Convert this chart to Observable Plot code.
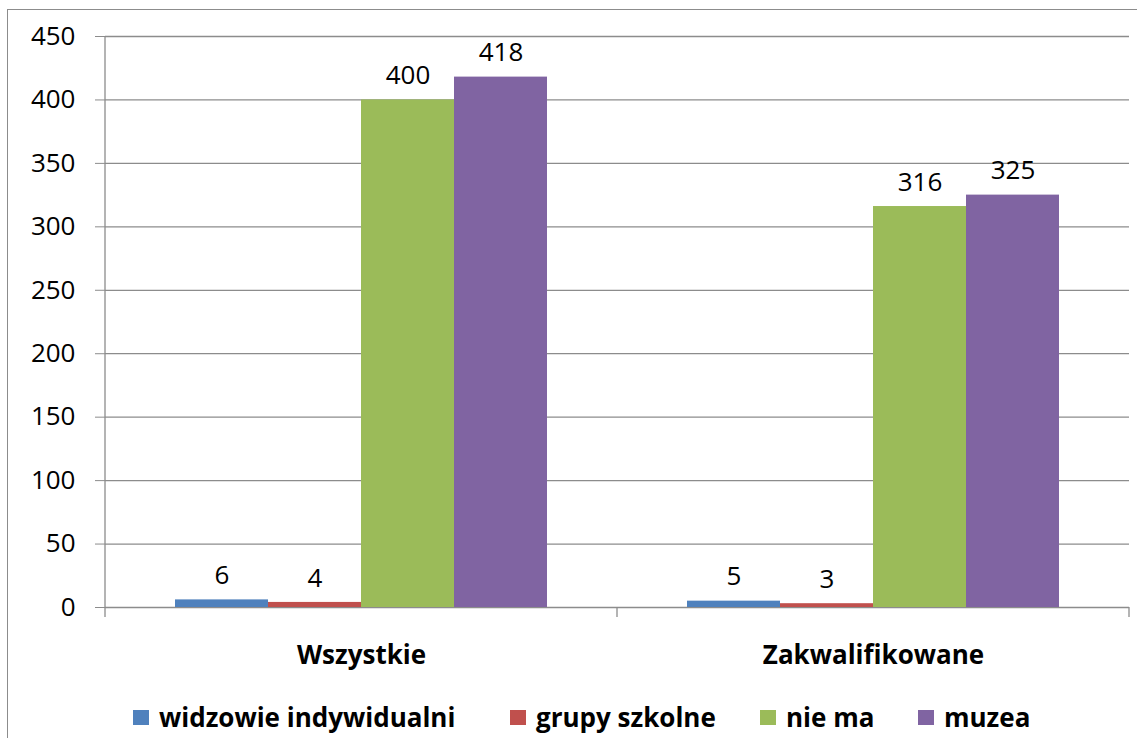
<!DOCTYPE html>
<html>
<head>
<meta charset="utf-8">
<script src="https://cdn.jsdelivr.net/npm/d3@7"></script>
<script src="https://cdn.jsdelivr.net/npm/@observablehq/plot@0.6"></script>
<style>
  body { margin: 0; background: #fff; font-family: "Open Sans", sans-serif; }
  #wrap { position: relative; width: 1137px; height: 738px; overflow: hidden; background: #fff; }
  #border { position: absolute; left: 7px; top: 9px; width: 1200px; height: 800px; border: 1px solid #8c8c8c; box-sizing: border-box; }
  #chart { position: absolute; left: 0; top: 0; }
  #legend { position: absolute; top: 700px; left: 0; width: 1137px; height: 34px; }
  .item { position: absolute; top: 0; display: flex; align-items: center; height: 34px; font-weight: bold; font-size: 26px; color: #000; white-space: nowrap; }
  .sw { width: 16px; height: 15px; margin-right: 10px; }
</style>
</head>
<body>
<div id="wrap">
  <div id="border"></div>
  <div id="chart"></div>
  <div id="legend"></div>
</div>
<script>
const groups = ["Wszystkie", "Zakwalifikowane"];
const series = ["widzowie indywidualni", "grupy szkolne", "nie ma", "muzea"];
const colors = ["#4F81BD", "#C0504D", "#9BBB59", "#8064A2"];
const valuesWszystkie = [6, 4, 400, 418];
const valuesZakwalifikowane = [5, 3, 316, 325];
const yTicks = [0, 50, 100, 150, 200, 250, 300, 350, 400, 450];
const legendLeft = [133, 510, 760, 918];

const data = [];
[valuesWszystkie, valuesZakwalifikowane].forEach((vals, gi) => {
  vals.forEach((v, si) => data.push({group: groups[gi], series: series[si], value: v}));
});

const W = 1137, H = 680;
const mL = 105, mR = 8, mT = 36, mB = 73;

const plot = Plot.plot({
  width: W,
  height: H,
  marginLeft: mL,
  marginRight: mR,
  marginTop: mT,
  marginBottom: mB,
  style: { fontFamily: "Open Sans, sans-serif", background: "transparent" },
  fx: { domain: groups, padding: 0, label: null },
  x: { domain: series, paddingInner: 0, paddingOuter: 0.75, axis: null },
  y: { domain: [0, 450], ticks: yTicks, label: null },
  color: { domain: series, range: colors },
  marks: [
    Plot.ruleY(yTicks, { stroke: "#8c8c8c", strokeWidth: 1.3 }),
    Plot.axisY({ ticks: yTicks, tickSize: 10, tickPadding: 20, fontSize: 26, stroke: "#8c8c8c", strokeOpacity: 1, color: "#000", label: null }),
    Plot.axisFx({ anchor: "bottom", tickSize: 0, tickPadding: 38, fontSize: 26, fontWeight: "bold", label: null }),
    Plot.barY(data, { fx: "group", x: "series", y: "value", fill: "series", inset: 0 }),
    Plot.text(data, { fx: "group", x: "series", y: "value", text: d => String(d.value), dy: -24, fontSize: 26, fill: "#000" })
  ]
});
document.getElementById("chart").appendChild(plot);

// category boundary ticks and left axis line, from the fx and y scales
const fxs = plot.scale("fx");
const ys = plot.scale("y");
const y0 = ys.apply(0);
const yTop = ys.apply(yTicks[yTicks.length - 1]);
const bounds = groups.map(g => fxs.apply(g));
bounds.push(fxs.apply(groups[groups.length - 1]) + fxs.bandwidth);
const g = d3.select(plot).append("g").attr("stroke", "#8c8c8c").attr("stroke-width", 1.3);
bounds.forEach(x => g.append("line").attr("x1", x).attr("x2", x).attr("y1", y0).attr("y2", y0 + 10));
g.append("line").attr("x1", bounds[0]).attr("x2", bounds[0]).attr("y1", yTop).attr("y2", y0);

const legend = document.getElementById("legend");
series.forEach((s, i) => {
  const it = document.createElement("div");
  it.className = "item";
  it.style.left = legendLeft[i] + "px";
  const sw = document.createElement("span");
  sw.className = "sw";
  sw.style.background = colors[i];
  const t = document.createElement("span");
  t.textContent = s;
  it.appendChild(sw); it.appendChild(t);
  legend.appendChild(it);
});
</script>
</body>
</html>
